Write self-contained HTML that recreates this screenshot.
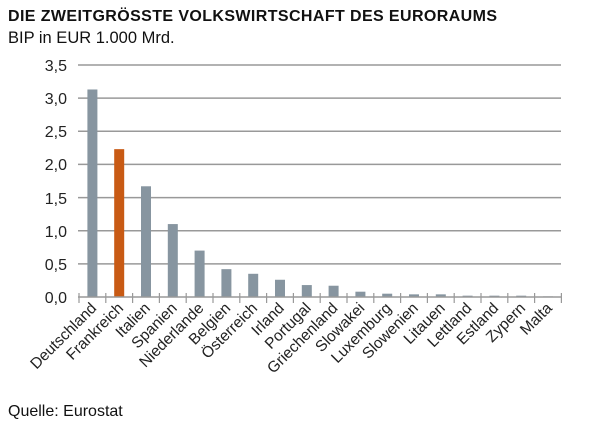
<!DOCTYPE html>
<html><head><style>body{margin:0;background:#fff}</style></head><body>
<svg width="600" height="429" xmlns="http://www.w3.org/2000/svg" font-family="Liberation Sans, Arial, sans-serif">
<text x="8" y="21" font-size="16" font-weight="bold" fill="#111" textLength="489">DIE ZWEITGRÖSSTE VOLKSWIRTSCHAFT DES EURORAUMS</text>
<text x="8" y="43" font-size="16.5" fill="#111">BIP in EUR 1.000 Mrd.</text>
<g stroke="#999" stroke-width="1.5">
<line x1="78" y1="65" x2="561" y2="65"/><line x1="78" y1="98.1" x2="561" y2="98.1"/><line x1="78" y1="131.3" x2="561" y2="131.3"/><line x1="78" y1="164.4" x2="561" y2="164.4"/><line x1="78" y1="197.6" x2="561" y2="197.6"/><line x1="78" y1="230.7" x2="561" y2="230.7"/><line x1="78" y1="263.9" x2="561" y2="263.9"/>
</g>
<g font-size="16" fill="#222" text-anchor="end">
<text x="67" y="71">3,5</text><text x="67" y="104">3,0</text><text x="67" y="137">2,5</text><text x="67" y="170">2,0</text><text x="67" y="204">1,5</text><text x="67" y="237">1,0</text><text x="67" y="270">0,5</text><text x="67" y="303">0,0</text>
</g>
<g id="bars"></g>
<line x1="78" y1="297" x2="561" y2="297" stroke="#999" stroke-width="1.5"/>
<g id="ticks" stroke="#999" stroke-width="1.2"></g>
<g id="labels" font-size="15.5" fill="#222" text-anchor="end"></g>
<text x="8" y="416" font-size="16" fill="#111">Quelle: Eurostat</text>
<script>
var n=["Deutschland","Frankreich","Italien","Spanien","Niederlande","Belgien","Österreich","Irland","Portugal","Griechenland","Slowakei","Luxemburg","Slowenien","Litauen","Lettland","Estland","Zypern","Malta"];
var v=[3.13,2.23,1.67,1.1,0.70,0.42,0.35,0.26,0.18,0.17,0.08,0.05,0.04,0.04,0.02,0.02,0.02,0.01];
var ns="http://www.w3.org/2000/svg",s=26.8,x0=79,y0=297,k=66.3;
for(var i=0;i<18;i++){var c=x0+s*i+s/2;var r=document.createElementNS(ns,"rect");var h=v[i]*k;
r.setAttribute("x",c-5);r.setAttribute("y",y0-h);r.setAttribute("width",10);r.setAttribute("height",h);r.setAttribute("fill",i==1?"#c85a14":"#8795a0");document.getElementById("bars").appendChild(r);
var t=document.createElementNS(ns,"text");t.setAttribute("transform","translate("+(c+5)+",309) rotate(-45)");t.textContent=n[i];document.getElementById("labels").appendChild(t);}
for(var i=0;i<=18;i++){var l=document.createElementNS(ns,"line");var x=x0+s*i;l.setAttribute("x1",x);l.setAttribute("x2",x);l.setAttribute("y1",293);l.setAttribute("y2",303);document.getElementById("ticks").appendChild(l);}
</script>
</svg>
</body></html>
